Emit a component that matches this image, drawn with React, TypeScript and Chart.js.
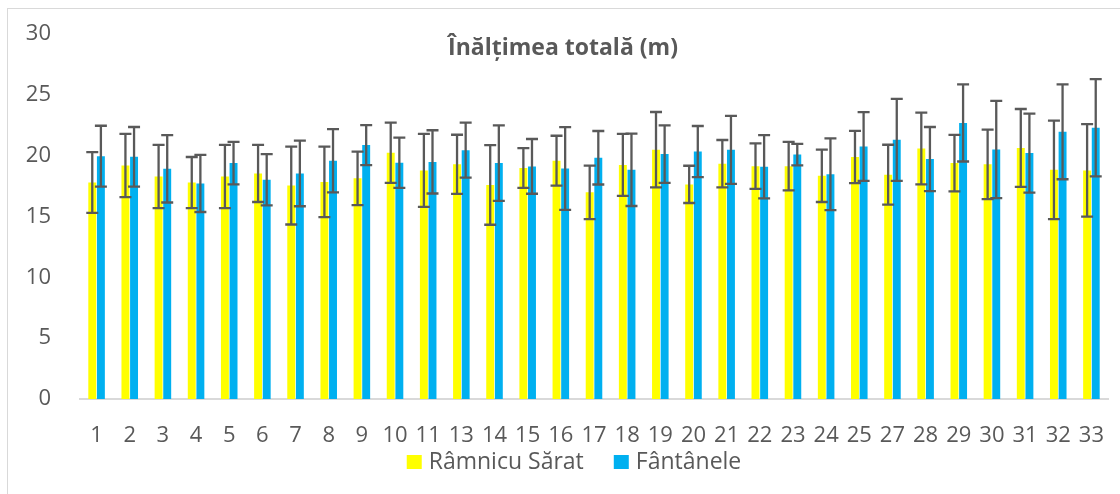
import React, { useEffect, useRef } from "react";
import { Chart, registerables } from "chart.js";

Chart.register(...registerables);

const categories = ["1","2","3","4","5","6","7","8","9","10","11","13","14","15","16","17","18","19","20","21","22","23","24","25","27","28","29","30","31","32","33"];

const ramnicuValues = [17.8,19.2,18.3,17.8,18.3,18.55,17.55,17.85,18.15,20.25,18.8,19.3,17.6,19.0,19.6,17.0,19.25,20.5,17.65,19.35,19.15,19.15,18.35,19.9,18.45,20.6,19.4,19.3,20.65,18.85,18.8];
const ramnicuErrors = [2.5,2.6,2.6,2.1,2.6,2.35,3.2,2.9,2.2,2.47,3.0,2.43,3.27,1.63,2.05,2.2,2.55,3.1,1.53,1.95,1.87,2.0,2.15,2.15,2.46,2.95,2.32,2.86,3.2,4.05,3.8];

const fantaneleValues = [19.97,19.92,18.93,17.73,19.4,18.03,18.55,19.59,20.88,19.43,19.5,20.46,19.4,19.13,18.96,19.84,18.85,20.14,20.35,20.49,19.1,20.1,18.49,20.76,21.31,19.73,22.7,20.52,20.22,21.97,22.3];
const fantaneleErrors = [2.5,2.45,2.77,2.35,1.75,2.1,2.7,2.6,1.65,2.07,2.6,2.26,3.1,2.25,3.4,2.2,2.98,2.36,2.1,2.8,2.6,0.88,2.95,2.83,3.37,2.64,3.17,4.0,3.25,3.9,4.0];

const yTicks = [0, 5, 10, 15, 20, 25, 30];
const titleText = "Înălțimea totală (m)";
const seriesNames = ["Râmnicu Sărat", "Fântânele"];
const seriesColors = ["#FFFF00", "#00B0F0"];

const FONT = "'Open Sans', 'Noto Sans', sans-serif";
const TEXT_COLOR = "#595959";

const errorBarsPlugin = {
  id: "errorBars",
  afterDatasetsDraw(chart: any) {
    const ctx = chart.ctx;
    const yScale = chart.scales.y;
    const errs = [ramnicuErrors, fantaneleErrors];
    ctx.save();
    ctx.strokeStyle = "#595959";
    ctx.lineWidth = 2.3;
    chart.data.datasets.forEach((ds: any, i: number) => {
      const meta = chart.getDatasetMeta(i);
      meta.data.forEach((bar: any, j: number) => {
        const v = ds.data[j];
        const e = errs[i][j];
        const x = bar.x;
        const yt = yScale.getPixelForValue(v + e);
        const yb = yScale.getPixelForValue(v - e);
        const half = 6;
        ctx.beginPath();
        ctx.moveTo(x, yt);
        ctx.lineTo(x, yb);
        ctx.moveTo(x - half, yt);
        ctx.lineTo(x + half, yt);
        ctx.moveTo(x - half, yb);
        ctx.lineTo(x + half, yb);
        ctx.stroke();
      });
    });
    ctx.restore();
  },
};

const frameTitleLegendPlugin = {
  id: "frameTitleLegend",
  beforeDraw(chart: any) {
    const ctx = chart.ctx;
    ctx.save();
    ctx.fillStyle = "#ffffff";
    ctx.fillRect(0, 0, chart.width, chart.height);
    ctx.strokeStyle = "#d9d9d9";
    ctx.lineWidth = 1;
    ctx.strokeRect(7.5, 8.5, 2000, 2000);
    ctx.restore();
  },
  afterDraw(chart: any) {
    const ctx = chart.ctx;
    ctx.save();
    // title
    ctx.fillStyle = TEXT_COLOR;
    ctx.font = `bold 23px ${FONT}`;
    ctx.textAlign = "center";
    ctx.textBaseline = "middle";
    ctx.fillText(titleText, 563, 48);

    // legend
    ctx.font = `23px ${FONT}`;
    ctx.textAlign = "left";
    const box = 15;
    const gapBoxText = 7;
    const gapItems = 30;
    const widths = seriesNames.map((n) => ctx.measureText(n).width);
    const total = widths.reduce((a, w) => a + box + gapBoxText + w, 0) + gapItems * (seriesNames.length - 1);
    const centerX = 574;
    const cy = 462;
    let x = centerX - total / 2;
    seriesNames.forEach((name, i) => {
      ctx.fillStyle = seriesColors[i];
      ctx.fillRect(x, cy - 7, box, 14);
      ctx.fillStyle = TEXT_COLOR;
      ctx.fillText(name, x + box + gapBoxText, cy);
      x += box + gapBoxText + widths[i] + gapItems;
    });
    ctx.restore();
  },
};

export default function App() {
  const ref = useRef<HTMLCanvasElement | null>(null);

  useEffect(() => {
    if (!ref.current) return;
    const chart = new Chart(ref.current, {
      type: "bar",
      data: {
        labels: categories,
        datasets: [
          {
            label: seriesNames[0],
            data: ramnicuValues,
            backgroundColor: seriesColors[0],
            categoryPercentage: 0.52,
            barPercentage: 0.92,
          },
          {
            label: seriesNames[1],
            data: fantaneleValues,
            backgroundColor: seriesColors[1],
            categoryPercentage: 0.52,
            barPercentage: 0.92,
          },
        ],
      },
      options: {
        responsive: false,
        animation: false,
        devicePixelRatio: 1,
        layout: { padding: { left: 24, right: 0, top: 29, bottom: 0 } },
        plugins: {
          title: { display: false },
          tooltip: { enabled: false },
          legend: { display: false },
        },
        scales: {
          x: {
            grid: { display: false },
            border: { display: true, color: "#d9d9d9", width: 2 },
            ticks: {
              color: TEXT_COLOR,
              font: { family: FONT, size: 22 },
              autoSkip: false,
              maxRotation: 0,
              padding: 16,
            },
            afterFit: (scale: any) => {
              scale.height = 95;
            },
          },
          y: {
            min: 0,
            max: 30,
            grid: { display: false },
            border: { display: false },
            afterBuildTicks: (scale: any) => {
              scale.ticks = yTicks.map((v) => ({ value: v }));
            },
            ticks: {
              color: TEXT_COLOR,
              font: { family: FONT, size: 22 },
              padding: 21,
            },
            afterFit: (scale: any) => {
              scale.width = 56;
            },
          },
        },
      },
      plugins: [frameTitleLegendPlugin, errorBarsPlugin],
    });
    return () => chart.destroy();
  }, []);

  return (
    <div style={{ position: "absolute", left: 0, top: 0, width: 1120, height: 494, overflow: "hidden", background: "#fff" }}>
      <canvas ref={ref} width={1120} height={494} style={{ display: "block" }} />
    </div>
  );
}
